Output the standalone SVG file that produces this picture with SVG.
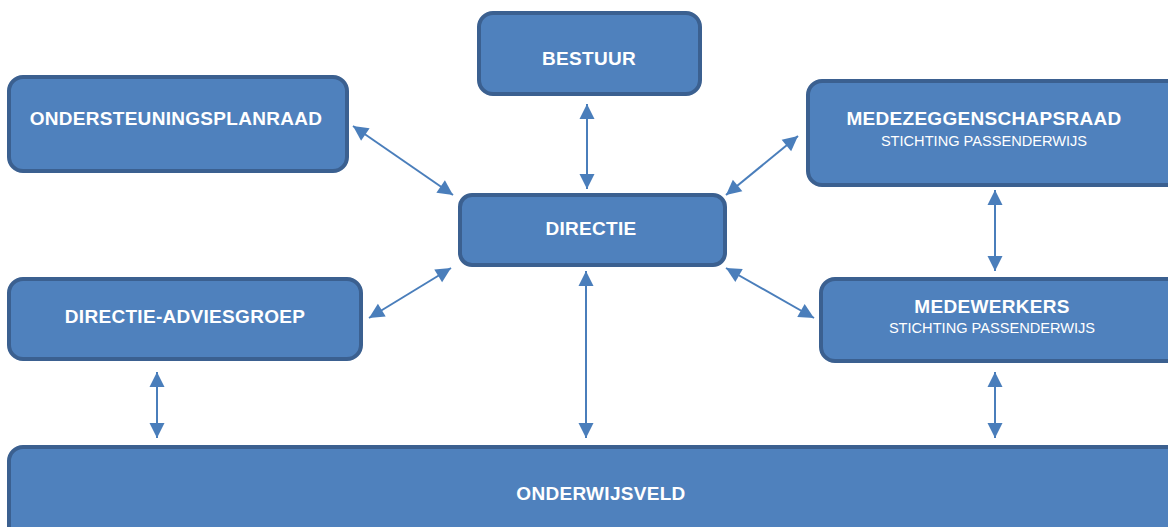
<svg xmlns="http://www.w3.org/2000/svg" width="1168" height="527" viewBox="0 0 1168 527">
<defs>
<style>
.box{fill:#4f81bd;stroke:#3b6090;stroke-width:4}
.t{font-family:"Liberation Sans",Arial,sans-serif;font-weight:bold;font-size:19px;letter-spacing:0.3px;fill:#ffffff;text-anchor:middle}
.s{font-family:"Liberation Sans",Arial,sans-serif;font-size:14.6px;fill:#ffffff;text-anchor:middle}
.c{stroke:#4a7ebb;stroke-width:2;fill:none;marker-start:url(#ah);marker-end:url(#ah)}
</style>
<marker id="ah" markerUnits="userSpaceOnUse" markerWidth="17" markerHeight="17" viewBox="0 0 17 17" refX="16" refY="8.5" orient="auto-start-reverse">
<path d="M1,1 L16,8.5 L1,16 z" fill="#4a7ebb"/>
</marker>
</defs>
<rect width="1168" height="527" fill="#ffffff"/>
<g id="bestuur"><rect class="box" x="479" y="13" width="221" height="81" rx="14"/><text class="t" x="589" y="65">BESTUUR</text></g>
<g id="ondersteuningsplanraad"><rect class="box" x="9" y="77" width="338" height="94" rx="14"/><text class="t" x="176" y="125">ONDERSTEUNINGSPLANRAAD</text></g>
<g id="medezeggenschapsraad"><rect class="box" x="808" y="81" width="376" height="104" rx="14"/><text class="t" x="984" y="125">MEDEZEGGENSCHAPSRAAD</text><text class="s" x="984" y="146">STICHTING PASSENDERWIJS</text></g>
<g id="directie"><rect class="box" x="460" y="195" width="265" height="70" rx="12"/><text class="t" x="591" y="235">DIRECTIE</text></g>
<g id="directie-adviesgroep"><rect class="box" x="9" y="279" width="352" height="80" rx="14"/><text class="t" x="185" y="323">DIRECTIE-ADVIESGROEP</text></g>
<g id="medewerkers"><rect class="box" x="821" y="279" width="360" height="82" rx="14"/><text class="t" x="992" y="313">MEDEWERKERS</text><text class="s" x="992" y="333">STICHTING PASSENDERWIJS</text></g>
<g id="onderwijsveld"><rect class="box" x="9" y="447" width="1175" height="100" rx="14"/><text class="t" x="601" y="500">ONDERWIJSVELD</text></g>
<g id="connectors">
<line class="c" x1="587" y1="104" x2="587" y2="189"/>
<line class="c" x1="353" y1="126" x2="453" y2="195"/>
<line class="c" x1="798" y1="136" x2="726" y2="195"/>
<line class="c" x1="451" y1="268" x2="369" y2="318"/>
<line class="c" x1="726" y1="268" x2="814" y2="318"/>
<line class="c" x1="995" y1="190" x2="995" y2="271"/>
<line class="c" x1="157" y1="372" x2="157" y2="438"/>
<line class="c" x1="586" y1="271" x2="586" y2="438"/>
<line class="c" x1="995" y1="372" x2="995" y2="438"/>
</g>
</svg>
